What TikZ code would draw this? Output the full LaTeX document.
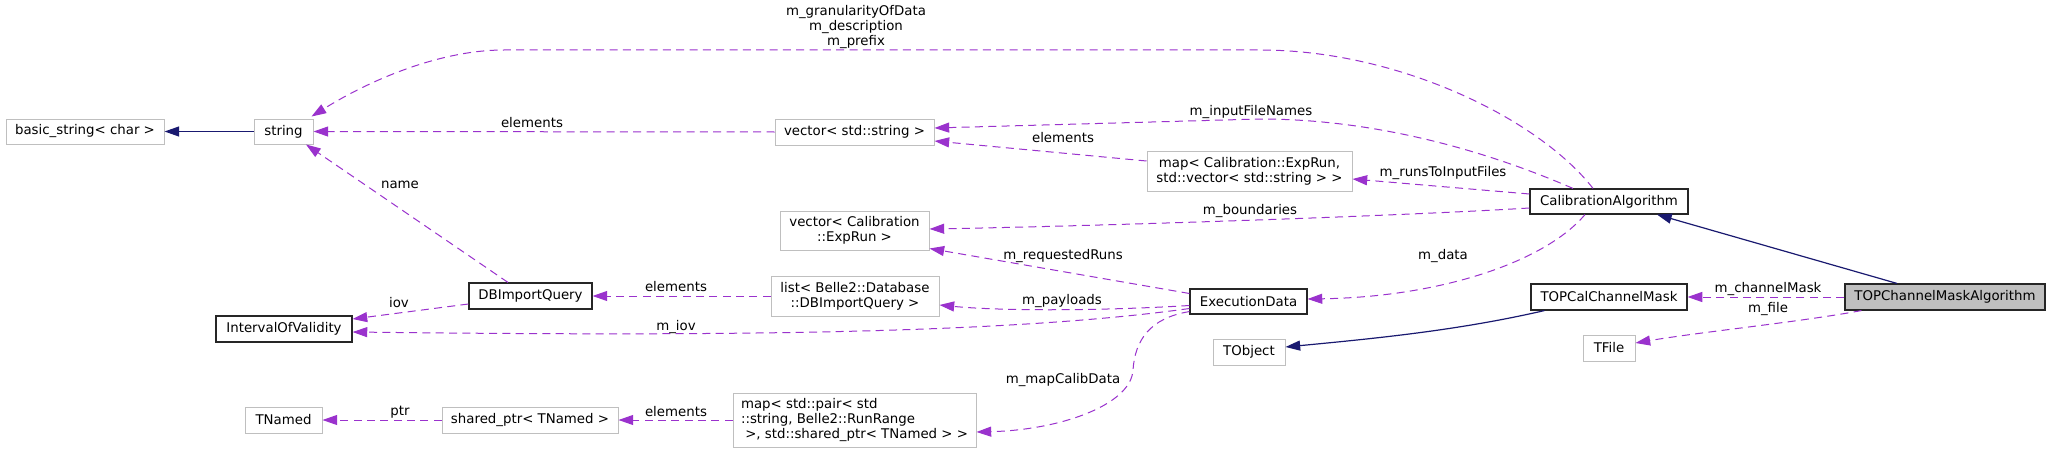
\documentclass[tikz,border=0pt]{standalone}
\usepackage{fontspec}
\setmainfont{DejaVu Sans}
\usetikzlibrary{arrows.meta,calc}
\definecolor{dxpurple}{HTML}{9A32CD}
\definecolor{dxnavy}{HTML}{191970}
\definecolor{dxgray}{HTML}{BFBFBF}
\begin{document}
\begin{tikzpicture}[x=0.75pt,y=-0.75pt,
  font=\fontsize{10}{11}\selectfont,
  box/.style={draw=dxgray, line width=0.75pt, fill=white, inner sep=0pt, align=center, minimum height=19.5pt},
  docbox/.style={box, draw=black!85, line width=0.85pt},
  mainbox/.style={docbox, fill=dxgray},
  uses/.style={color=dxpurple, line width=0.75pt, dash pattern=on 6pt off 4pt, -{Triangle[length=11pt,width=7.5pt]}},
  inherit/.style={color=dxnavy, line width=0.9pt, -{Triangle[length=11pt,width=7.5pt]}},
  lbl/.style={inner sep=0pt, align=center, text=black}]
\useasboundingbox (0,0) rectangle (2051,453);
\fill[white] (0,0) rectangle (2051,453);

% nodes
\node[box, minimum width=118.5pt, minimum height=18.75pt] (bstr) at (85,131.5) {basic\_string< char >};
\node[box, minimum width=44.25pt, minimum height=18.75pt] (str) at (283.5,131.5) {string};
\node[docbox, minimum width=92.25pt] (dbq) at (530.5,296) {DBImportQuery};
\node[docbox, minimum width=102pt] (iov) at (284,329) {IntervalOfValidity};
\node[box, minimum width=57.75pt] (tnamed) at (283.5,420) {TNamed};
\node[box, minimum width=132pt] (sptr) at (530,420) {shared\_ptr< TNamed >};
\node[box, minimum width=119.25pt] (vstr) at (854.5,132) {vector< std::string >};
\node[box, minimum width=153.75pt, minimum height=30pt] (mapexp) at (1249.5,171) {map< Calibration::ExpRun,\\std::vector< std::string > >};
\node[box, minimum width=111.75pt, minimum height=29.25pt] (vexp) at (854.5,230.5) {vector< Calibration\\::ExpRun >};
\node[box, minimum width=126pt, minimum height=30pt] (list) at (855,296) {list< Belle2::Database\\::DBImportQuery >};
\node[docbox, minimum width=87.75pt, minimum height=18.75pt] (exec) at (1248.5,301.5) {ExecutionData};
\node[box, minimum width=54pt] (tobj) at (1249,352) {TObject};
\node[box, minimum width=182.25pt, minimum height=40.5pt, align=left] (mappair) at (854.5,420) {map< std::pair< std\\::string, Belle2::RunRange\\\ >, std::shared\_ptr< TNamed > >};
\node[docbox, minimum width=118.5pt, minimum height=18.75pt] (calib) at (1609,201.5) {CalibrationAlgorithm};
\node[docbox, minimum width=117pt] (tcal) at (1609,297) {TOPCalChannelMask};
\node[mainbox, minimum width=150pt] (tcma) at (1945,297) {TOPChannelMaskAlgorithm};
\node[box, minimum width=39pt] (tfile) at (1609,348) {TFile};

% usage edges
\draw[uses] ($(calib.north)+(-16,0)$) .. controls (1540,120) and (1400,50) .. (1260,50) -- (504,50) .. controls (440,50) and (370,80) .. ($(str.north east)+(-2,-2)$);
\node[lbl] (lgran) at (856,27) {m\_granularityOfData\\m\_description\\m\_prefix};

\draw[uses] ($(calib.north)+(-36,0)$) .. controls (1480,148) and (1370,119) .. (1260,119) -- ($(vstr.east)+(0,-4)$);
\node[lbl] (linput) at (1251,112) {m\_inputFileNames};

\draw[uses] ($(mapexp.west)+(0,-10)$) -- ($(vstr.east)+(0,9)$);
\node[lbl] (lelvec) at (1063,138) {elements};

\draw[uses] ($(calib.west)+(0,-7.5)$) -- ($(mapexp.east)+(0,8)$);
\node[lbl] (lruns) at (1443,173) {m\_runsToInputFiles};

\draw[uses] ($(calib.west)+(0,6.5)$) .. controls (1400,216) and (1100,226) .. ($(vexp.east)+(0,-1.5)$);
\node[lbl] (lbound) at (1250,211) {m\_boundaries};

\draw[uses] ($(calib.south)+(-24,0)$) .. controls (1545,262) and (1440,297) .. ($(exec.east)+(0,-2.5)$);
\node[lbl] (ldata) at (1443,256) {m\_data};

\draw[uses] ($(exec.west)+(0,-8)$) -- ($(vexp.south east)+(0,-2)$);
\node[lbl] (lreq) at (1063,256) {m\_requestedRuns};

\draw[uses] ($(exec.west)+(0,4)$) .. controls (1100,311) and (1000,311) .. ($(list.east)+(0,9)$);
\node[lbl] (lpay) at (1062,301) {m\_payloads};

\draw[uses] ($(exec.west)+(0,7)$) .. controls (1000,335) and (700,336) .. ($(iov.east)+(0,3)$);
\node[lbl] (lmiov) at (676,327) {m\_iov};

\draw[uses] ($(exec.south west)+(0,-3)$) .. controls (1150,318) and (1135,340) .. (1133,370) .. controls (1131,405) and (1060,430) .. ($(mappair.east)+(0,12)$);
\node[lbl] (lmap) at (1063,380) {m\_mapCalibData};

\draw[uses] ($(dbq.north)+(-22.5,0)$) -- ($(str.south)+(22.5,0)$);
\node[lbl] (lname) at (400,185) {name};

\draw[uses] ($(dbq.west)+(0,8)$) -- ($(iov.east)+(0,-10)$);
\node[lbl] (liov) at (399,303) {iov};

\draw[uses] (list.west) -- (dbq.east);
\node[lbl] (lellist) at (676,287) {elements};

\draw[uses] (vstr.west) -- (str.east);
\node[lbl] (lelstr) at (532,123) {elements};

\draw[uses] (sptr.west) -- (tnamed.east);
\node[lbl] (lptr) at (400,412) {ptr};

\draw[uses] (mappair.west) -- (sptr.east);
\node[lbl] (lelmap) at (676,412) {elements};

\draw[uses] (tcma.west) -- (tcal.east);
\node[lbl] (lmask) at (1768,289) {m\_channelMask};

\draw[uses] ($(tcma.south west)+(17,0)$) .. controls (1800,322) and (1700,332) .. ($(tfile.east)+(0,-5)$);
\node[lbl] (lfile) at (1768,309) {m\_file};

% inheritance edges
\draw[inherit] (str.west) -- (bstr.east);
\draw[inherit] ($(tcma.north)+(-48,0)$) -- ($(calib.south)+(48,0)$);
\draw[inherit] ($(tcal.south west)+(14,0)$) .. controls (1460,330) and (1380,338) .. ($(tobj.east)+(0,-5)$);
\end{tikzpicture}
\end{document}
